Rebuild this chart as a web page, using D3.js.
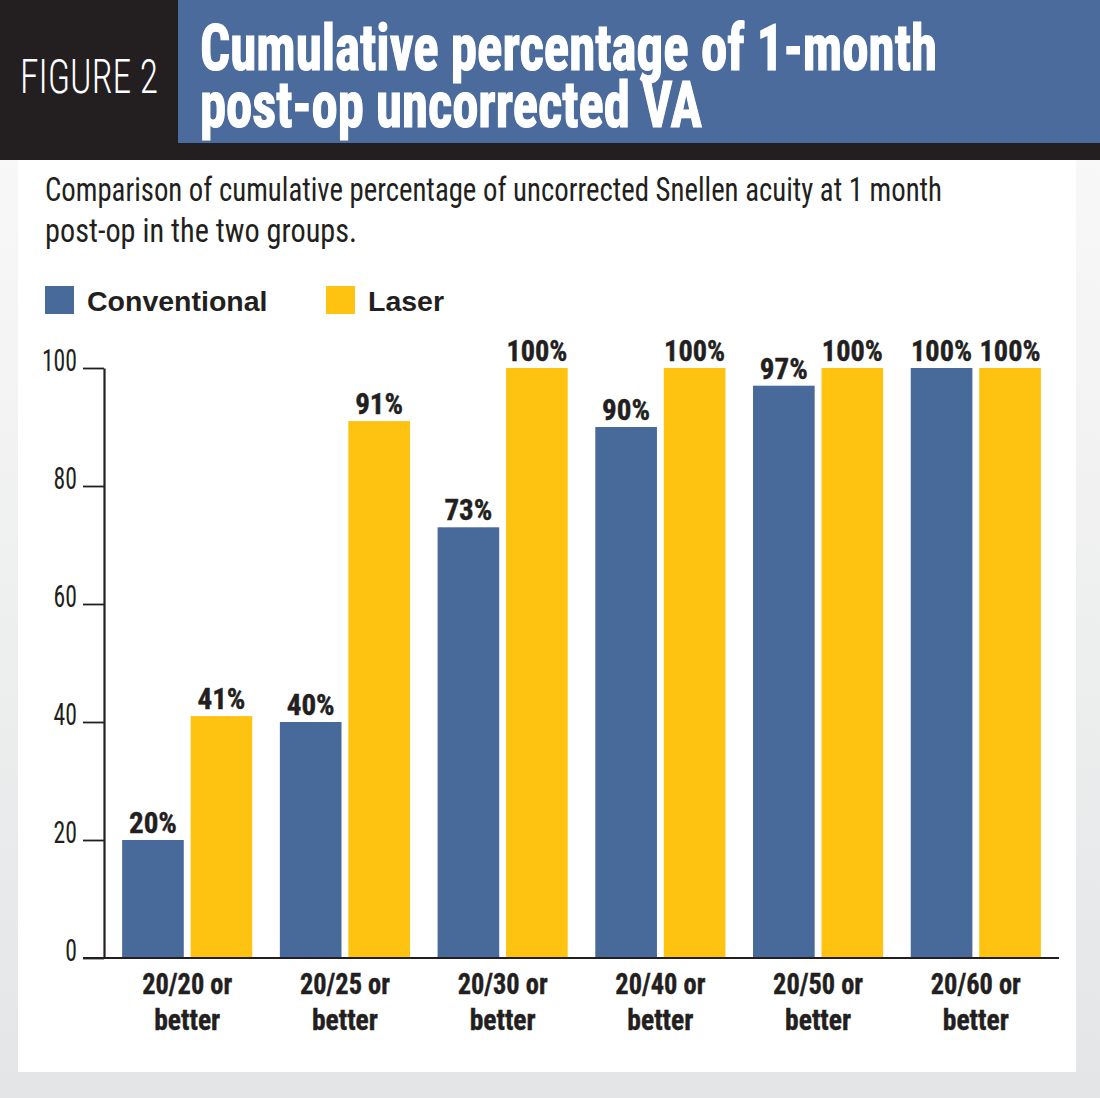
<!DOCTYPE html>
<html>
<head>
<meta charset="utf-8">
<script src="https://cdnjs.cloudflare.com/ajax/libs/d3/7.8.5/d3.min.js"></script>
<style>
  html, body { margin: 0; padding: 0; background: #fff; }
  svg { display: block; }
</style>
</head>
<body>
<div id="chart"></div>
<script>
// Data
const categories = ["20/20 or better", "20/25 or better", "20/30 or better",
                    "20/40 or better", "20/50 or better", "20/60 or better"];
const seriesNames = ["Conventional", "Laser"];
const conventional = [20, 40, 73, 90, 97, 100];
const laser = [41, 91, 100, 100, 100, 100];
const yTicks = [0, 20, 40, 60, 80, 100];

const W = 1100, H = 1098;
const colors = { Conventional: "#476a9a", Laser: "#fdc310" };
const ink = "#231f20";
const narrow = "'Roboto Condensed', 'Liberation Sans Narrow', 'DejaVu Sans Condensed', sans-serif";

const svg = d3.select("#chart").append("svg")
    .attr("width", W).attr("height", H);

// Background gradient + white panel
const defs = svg.append("defs");
const bg = defs.append("linearGradient").attr("id", "bg")
    .attr("x1", 0).attr("y1", 0).attr("x2", 0).attr("y2", 1);
bg.append("stop").attr("offset", "0%").attr("stop-color", "#fbfbfb");
bg.append("stop").attr("offset", "100%").attr("stop-color", "#e4e5e6");
svg.append("rect").attr("width", W).attr("height", H).attr("fill", "url(#bg)");
svg.append("rect").attr("x", 18).attr("y", 160).attr("width", 1058).attr("height", 912)
    .attr("fill", "#fff");

// Header
svg.append("rect").attr("x", 0).attr("y", 0).attr("width", W).attr("height", 160).attr("fill", ink);
svg.append("rect").attr("x", 178).attr("y", 0).attr("width", W - 178).attr("height", 143).attr("fill", "#4a6b9b");

svg.append("text").attr("x", 20).attr("y", 93)
    .attr("font-family", "'Roboto Condensed', Roboto, 'DejaVu Sans', sans-serif")
    .attr("font-weight", 300).attr("font-size", 49).attr("fill", "#fff")
    .attr("textLength", 138).attr("lengthAdjust", "spacingAndGlyphs")
    .text("FIGURE 2");

const titleLines = [
    { t: "Cumulative percentage of 1-month", y: 70, w: 737 },
    { t: "post-op uncorrected VA", y: 127, w: 502 }
];
svg.selectAll(".title").data(titleLines).join("text")
    .attr("class", "title")
    .attr("x", 200).attr("y", d => d.y)
    .attr("font-family", narrow).attr("font-weight", "bold")
    .attr("font-size", 64).attr("fill", "#fff")
    .attr("stroke", "#fff").attr("stroke-width", 1.2)
    .attr("textLength", d => d.w).attr("lengthAdjust", "spacingAndGlyphs")
    .text(d => d.t);

// Subtitle
const subLines = [
    { t: "Comparison of cumulative percentage of uncorrected Snellen acuity at 1 month", y: 201, w: 897 },
    { t: "post-op in the two groups.", y: 242, w: 312 }
];
svg.selectAll(".sub").data(subLines).join("text")
    .attr("class", "sub")
    .attr("x", 45).attr("y", d => d.y)
    .attr("font-family", narrow).attr("font-size", 34).attr("fill", ink)
    .attr("textLength", d => d.w).attr("lengthAdjust", "spacingAndGlyphs")
    .text(d => d.t);

// Legend
const legendX = [45, 326];
const legend = svg.selectAll(".legend").data(seriesNames).join("g")
    .attr("class", "legend")
    .attr("transform", (d, i) => `translate(${legendX[i]},286)`);
legend.append("rect").attr("width", 29).attr("height", 28).attr("fill", d => colors[d]);
legend.append("text").attr("x", 42).attr("y", 25)
    .attr("font-family", "'Liberation Sans', Arial, sans-serif").attr("font-weight", "bold")
    .attr("font-size", 28.5).attr("fill", ink)
    .text(d => d);

// Scales
const y = d3.scaleLinear().domain([0, 100]).range([958, 368]);
const x0 = d3.scaleBand().domain(categories).range([104, 1059])
    .paddingInner(0.175).paddingOuter(0.115);
const x1 = d3.scaleBand().domain(seriesNames).range([0, x0.bandwidth()])
    .paddingInner(0.1).paddingOuter(0);

const rows = categories.map((c, i) => ({
    cat: c,
    vals: [{ s: "Conventional", v: conventional[i] }, { s: "Laser", v: laser[i] }]
}));

// Bars
const groups = svg.selectAll(".grp").data(rows).join("g")
    .attr("class", "grp")
    .attr("transform", d => `translate(${x0(d.cat)},0)`);
groups.selectAll("rect").data(d => d.vals).join("rect")
    .attr("x", d => x1(d.s))
    .attr("y", d => y(d.v))
    .attr("width", x1.bandwidth())
    .attr("height", d => y(0) - y(d.v))
    .attr("fill", d => colors[d.s]);
groups.selectAll("text.val").data(d => d.vals).join("text")
    .attr("class", "val")
    .attr("x", d => x1(d.s) + x1.bandwidth() / 2)
    .attr("y", d => y(d.v) - 7)
    .attr("text-anchor", "middle")
    .attr("font-family", narrow).attr("font-weight", "bold")
    .attr("font-size", 29).attr("fill", ink)
    .attr("stroke", ink).attr("stroke-width", 0.4)
    .attr("textLength", d => String(d.v).length * 13 + 22)
    .attr("lengthAdjust", "spacingAndGlyphs")
    .text(d => d.v + "%");

// Y axis
const yAxis = svg.append("g").attr("transform", "translate(104,0)")
    .call(d3.axisLeft(y).tickValues(yTicks).tickSize(21).tickSizeOuter(0).tickPadding(6));
yAxis.select(".domain").attr("stroke", ink).attr("stroke-width", 2.2);
yAxis.selectAll(".tick line").attr("stroke", ink).attr("stroke-width", 1.8);
yAxis.selectAll(".tick text")
    .attr("font-family", narrow).attr("font-size", 31).attr("fill", ink)
    .attr("dy", "0.08em")
    .attr("textLength", d => String(d).length * 11.7)
    .attr("lengthAdjust", "spacingAndGlyphs");

// X axis line
svg.append("line")
    .attr("x1", 83).attr("x2", x0.range()[1])
    .attr("y1", y(0)).attr("y2", y(0))
    .attr("stroke", ink).attr("stroke-width", 2);

// X labels
const xl = svg.selectAll(".xl").data(categories).join("text")
    .attr("class", "xl")
    .attr("text-anchor", "middle")
    .attr("font-family", narrow).attr("font-weight", "bold")
    .attr("font-size", 29).attr("fill", ink)
    .attr("stroke", ink).attr("stroke-width", 0.4);
xl.append("tspan")
    .attr("x", d => x0(d) + x0.bandwidth() / 2).attr("y", 994)
    .attr("textLength", 90).attr("lengthAdjust", "spacingAndGlyphs")
    .text(d => d.replace(" better", ""));
xl.append("tspan")
    .attr("x", d => x0(d) + x0.bandwidth() / 2).attr("y", 1030)
    .attr("textLength", 66).attr("lengthAdjust", "spacingAndGlyphs")
    .text("better");
</script>
</body>
</html>
